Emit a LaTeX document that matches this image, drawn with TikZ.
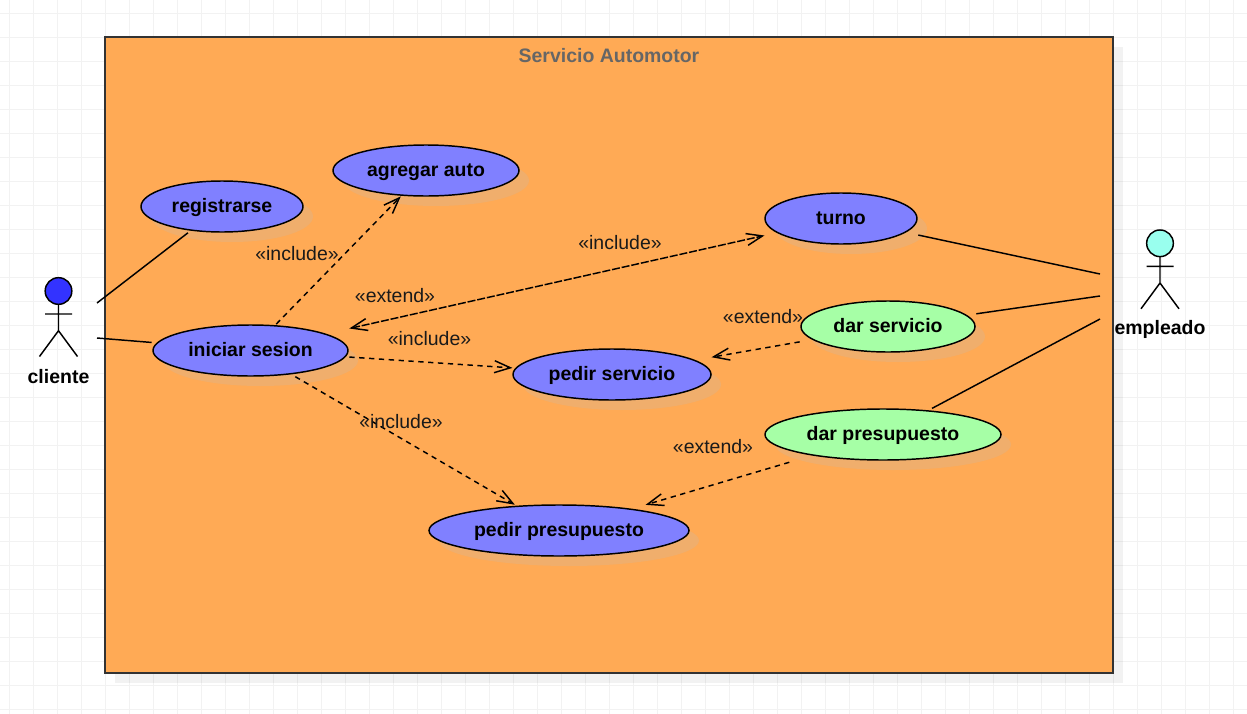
\documentclass[tikz,border=0pt]{standalone}
\usepackage{fontspec}
\setmainfont{Liberation Sans}
\usetikzlibrary{arrows.meta,shadows}
\definecolor{gridline}{HTML}{F2F2F2}
\definecolor{framefill}{HTML}{FFAA55}
\definecolor{framedraw}{HTML}{333333}
\definecolor{titlecolor}{HTML}{666666}
\definecolor{casetan}{HTML}{F0AE6C}
\definecolor{caseblue}{HTML}{8080FF}
\definecolor{casegreen}{HTML}{A6FFA6}
\definecolor{clientehead}{HTML}{3333FF}
\definecolor{empleadohead}{HTML}{99FFEE}
\definecolor{labelcolor}{HTML}{1A1A1A}
% oval outline, but connectors stop on the surrounding box
\makeatletter
\pgfdeclareshape{usecaseoval}{
    \inheritsavedanchors[from=rectangle]
    \inheritanchorborder[from=rectangle]
    \inheritanchor[from=rectangle]{center}
    \backgroundpath{
        \southwest \pgf@xa=\pgf@x \pgf@ya=\pgf@y
        \northeast \pgf@xb=\pgf@x \pgf@yb=\pgf@y
        \edef\ovalcx{\the\dimexpr(\pgf@xa+\pgf@xb)/2\relax}
        \edef\ovalcy{\the\dimexpr(\pgf@ya+\pgf@yb)/2\relax}
        \edef\ovalrx{\the\dimexpr(\pgf@xb-\pgf@xa)/2\relax}
        \edef\ovalry{\the\dimexpr(\pgf@yb-\pgf@ya)/2\relax}
        \pgfpathellipse{\pgfqpoint{\ovalcx}{\ovalcy}}{\pgfqpoint{\ovalrx}{0pt}}{\pgfqpoint{0pt}{\ovalry}}
    }
}
\makeatother
\begin{document}
\begin{tikzpicture}[x=0.75pt, y=-0.75pt,
    usecase/.style={shape=usecaseoval, draw=black, line width=1.1pt, inner sep=0pt, outer sep=0pt,
        minimum height=38.25pt, text height=12.7pt, text depth=3pt,
        font=\fontsize{14.6pt}{16pt}\selectfont\bfseries, text=black,
        drop shadow={shadow xshift=7.5pt, shadow yshift=-7.5pt, fill=casetan, opacity=1}},
    stereo/.style={font=\fontsize{14.6pt}{16pt}\selectfont, text=labelcolor, inner sep=0pt},
    actorname/.style={font=\fontsize{14.6pt}{16pt}\selectfont\bfseries, text=black, inner sep=0pt},
    assoc/.style={draw=black, line width=1.1pt, shorten >=1pt},
    dep/.style={draw=black, line width=1.1pt, dash pattern=on 4pt off 3.4pt, shorten <=1pt, shorten >=0.4pt,
        -{Straight Barb[length=12pt, width=9pt, line width=1.1pt]}},
    stickman/.pic={
        \draw[line width=1.1pt, fill=#1] (0,-26) circle (10pt);
        \draw[line width=1.1pt] (0,-13) -- (0,13.7) (-13.5,-3) -- (13.5,-3)
            (-19,39.5) -- (0,13.7) -- (19,39.5);
    }]
    \useasboundingbox (0,0) rectangle (1247,714);
    \fill[white] (0,0) rectangle (1247,714);
    \foreach \gx in {9,33,...,1233}
        \draw[gridline, line width=0.75pt] (\gx,0) -- (\gx,714);
    \foreach \gy in {13,37,...,709}
        \draw[gridline, line width=0.75pt] (0,\gy) -- (1247,\gy);

    \node (sistema) [draw=framedraw, fill=framefill, line width=1.3pt, minimum width=756pt, minimum height=477pt,
        drop shadow={shadow xshift=7.5pt, shadow yshift=-7.5pt, fill=black, opacity=0.05}] at (609,355) {};
    \node (titulo) [font=\fontsize{14.6pt}{16pt}\selectfont\bfseries, text=titlecolor, inner sep=0pt] at (609,56) {Servicio Automotor};

    \pic at (58.5,317) {stickman=clientehead};
    \pic at (1160,269.3) {stickman=empleadohead};
    \node (cliente) [actorname] at (58.5,377) {cliente};
    \node (empleado) [actorname] at (1160,329) {empleado};

    \node (registrarse) [usecase, fill=caseblue, minimum width=121.5pt] at (222,206.5) {registrarse};
    \node (agregar) [usecase, fill=caseblue, minimum width=139.5pt] at (426,170.5) {agregar auto};
    \node (iniciar) [usecase, fill=caseblue, minimum width=146.25pt] at (250.5,350.5) {iniciar sesion};
    \node (turno) [usecase, fill=caseblue, minimum width=114pt] at (841,218.5) {turno};
    \node (pedirserv) [usecase, fill=caseblue, minimum width=148.5pt] at (612,374.5) {pedir servicio};
    \node (pedirpres) [usecase, fill=caseblue, minimum width=195pt] at (559,530.5) {pedir presupuesto};
    \node (darserv) [usecase, fill=casegreen, minimum width=130.5pt] at (888,326.5) {dar servicio};
    \node (darpres) [usecase, fill=casegreen, minimum width=177pt] at (883,434.5) {dar presupuesto};

    \coordinate (cliA) at (97,303);
    \coordinate (cliB) at (97,338);
    \coordinate (empA) at (1100,274);
    \coordinate (empB) at (1100,296);
    \coordinate (empC) at (1100,319);

    \draw[assoc] (cliA) -- (registrarse);
    \draw[assoc] (cliB) -- (iniciar);
    \draw[assoc] (empA) -- (turno);
    \draw[assoc] (empB) -- (darserv);
    \draw[assoc] (empC) -- (darpres);

    \draw[dep] (iniciar) -- (agregar);
    \draw[dep, dash pattern=on 6pt off 1.4pt, {Straight Barb[length=12pt, width=9pt, line width=1.1pt]}-{Straight Barb[length=12pt, width=9pt, line width=1.1pt]}] (iniciar) -- (turno);
    \draw[dep] (iniciar) -- (pedirserv);
    \draw[dep] (iniciar) -- (pedirpres);
    \draw[dep] (darserv) -- (pedirserv);
    \draw[dep, shorten <=6pt] (darpres) -- (pedirpres);

    \node (incagregar) [stereo] at (297,254) {«include»};
    \node (incturno) [stereo] at (620,243) {«include»};
    \node (extturno) [stereo] at (395,296) {«extend»};
    \node (incserv) [stereo] at (429.5,339) {«include»};
    \node (incpres) [stereo] at (401,422) {«include»};
    \node (extserv) [stereo] at (763,317) {«extend»};
    \node (extpres) [stereo] at (713,447) {«extend»};
\end{tikzpicture}
\end{document}
